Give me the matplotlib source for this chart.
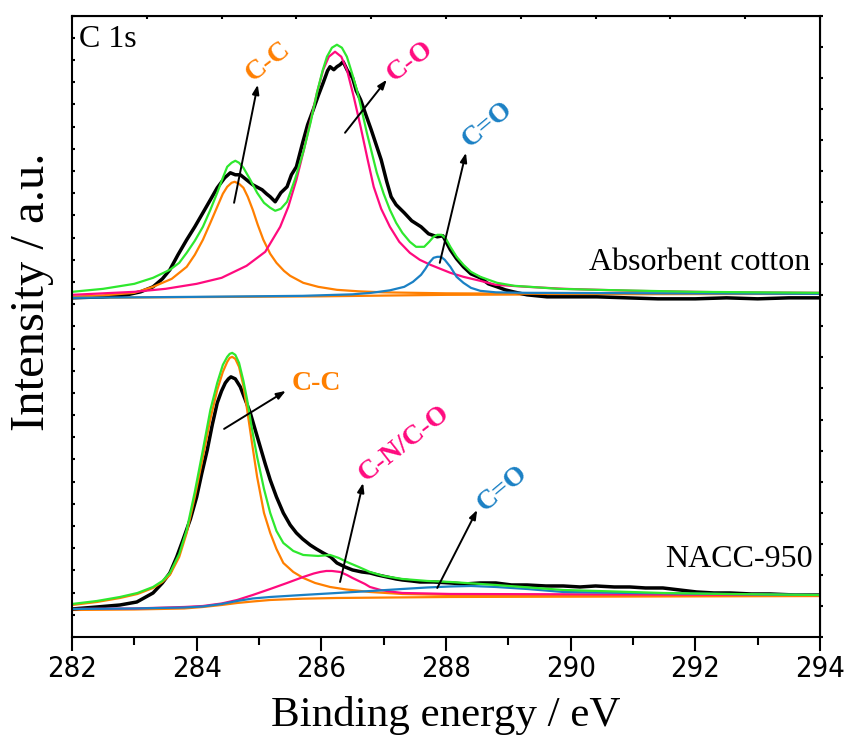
import numpy as np
import matplotlib
matplotlib.use('Agg')
import matplotlib.pyplot as plt
from matplotlib import font_manager

# ---- Absorbent cotton (upper spectrum), y in a.u. ----
cot_raw_x = [282.0, 282.5, 282.88, 283.1, 283.3, 283.45, 283.57, 283.7, 283.84, 283.97, 284.1, 284.22, 284.33,
             284.45, 284.54, 284.62, 284.7, 284.8, 284.9, 285.05, 285.12, 285.18, 285.26, 285.35, 285.45,
             285.52, 285.6, 285.7, 285.78, 285.87, 285.95, 286.03, 286.1, 286.14, 286.2, 286.25, 286.3,
             286.35, 286.42, 286.5, 286.56, 286.63, 286.72, 286.8, 286.88, 286.96, 287.05, 287.12, 287.2,
             287.33, 287.45, 287.6, 287.72, 287.86, 287.95, 288.07, 288.17, 288.28, 288.4, 288.55, 288.68,
             288.82, 288.95, 289.08, 289.3, 289.62, 290.0, 290.42, 290.9, 291.4, 292.0, 292.5, 293.0, 293.5, 294.0]
cot_raw_y = [339, 340, 342, 345, 350, 358, 367, 382, 397, 410, 424, 437, 449,
             459, 464, 462, 462, 457, 452, 447, 443, 440, 435, 444, 450,
             462, 470, 494, 512, 527, 541, 554, 566, 570, 567, 570, 572,
             575, 566, 559, 546, 537, 521, 507, 492, 477, 455, 440, 432,
             424, 416, 410, 403, 400, 401, 387, 378, 370, 363, 359, 353,
             350, 347, 345, 342, 340, 340, 340, 339, 338, 338, 339, 338, 339, 339]

cot_env_x = [282.0, 282.5, 283.0, 283.3, 283.57, 283.72, 283.84, 283.97, 284.1, 284.22, 284.33, 284.42, 284.49,
             284.56, 284.62, 284.68, 284.75, 284.86, 284.97, 285.08, 285.18, 285.26, 285.35, 285.45, 285.58,
             285.72, 285.83, 285.93, 286.02, 286.09, 286.17, 286.25, 286.33, 286.41, 286.49, 286.57, 286.65,
             286.73, 286.81, 286.89, 287.0, 287.1, 287.2, 287.3, 287.42, 287.52, 287.65, 287.73, 287.8,
             287.86, 287.93, 288.0, 288.07, 288.17, 288.28, 288.4, 288.55, 288.82, 289.1, 289.35, 289.8,
             290.42, 291.2, 292.0, 293.0, 294.0]
cot_env_y = [345, 348, 353, 359, 367, 374, 384, 396, 410, 427, 444, 459, 470,
             474, 476, 474, 469, 457, 444, 434, 429, 426, 428, 435, 458,
             487, 515, 544, 566, 580, 589, 592, 589, 580, 564, 547, 526,
             504, 484, 464, 443, 427, 414, 404, 395, 390, 390, 395, 400,
             402, 402, 398, 390, 380, 372, 365, 360, 354, 351, 350, 348,
             347, 346, 345, 344.5, 344]

cot_cc_x = [282.0, 282.5, 283.0, 283.3, 283.6, 283.84, 283.97, 284.1, 284.22, 284.33, 284.42, 284.49, 284.56,
            284.61, 284.68, 284.75, 284.82, 284.9, 284.98, 285.07, 285.18, 285.28, 285.4, 285.5, 285.71,
            285.95, 286.25, 286.6, 287.0, 287.5, 288.0, 289.0, 290.0, 294.0]
cot_cc_y = [340, 341.5, 344, 350, 358, 370, 382, 397, 414, 430, 443, 450, 454,
            455, 453, 449, 440, 427, 412, 397, 383, 374, 366, 361, 354,
            350, 347, 345.5, 344.5, 344, 343.5, 343.2, 343, 343]

cot_co_x = [282.0, 282.5, 283.0, 283.5, 284.0, 284.4, 284.8, 285.1, 285.34, 285.47, 285.6, 285.72, 285.82,
            285.93, 286.03, 286.12, 286.22, 286.32, 286.41, 286.52, 286.63, 286.74, 286.84, 286.96, 287.1,
            287.25, 287.42, 287.58, 287.75, 288.07, 288.28, 288.55, 288.8, 289.3, 289.9, 291.0, 292.5, 294.0]
cot_co_y = [342, 343.5, 345, 348, 353, 359, 371, 385, 410, 430, 457, 487, 514,
            544, 567, 580, 585, 580, 567, 540, 510, 478, 450, 428, 410,
            395, 384, 377, 372, 364, 360, 356, 352, 350, 348, 346, 344.5, 344]

cot_cdo_x = [282.0, 284.0, 285.7, 286.5, 286.8, 287.1, 287.33, 287.47, 287.6, 287.67, 287.73, 287.8, 287.86,
             287.92, 287.98, 288.07, 288.17, 288.28, 288.4, 288.55, 288.8, 289.3, 294.0]
cot_cdo_y = [339, 340, 341, 342.5, 344, 346.5, 350, 355, 362, 368, 374, 379, 380,
             380, 377, 370, 360, 354, 349, 346, 344.5, 344, 343]

cot_bg_x = [282.0, 286.0, 288.0, 290.0, 294.0]
cot_bg_y = [339, 340.5, 342, 342.5, 343]

# ---- NACC-950 (lower spectrum) ----
nacc_raw_x = [282.0, 282.4, 282.77, 283.04, 283.3, 283.45, 283.57, 283.68, 283.78, 283.9, 284.0, 284.08, 284.17,
              284.25, 284.33, 284.4, 284.46, 284.51, 284.55, 284.62, 284.7, 284.78, 284.86, 284.94, 285.02,
              285.1, 285.18, 285.28, 285.39, 285.5, 285.6, 285.7, 285.82, 285.92, 286.03, 286.15, 286.25,
              286.38, 286.5, 286.65, 286.78, 286.9, 287.05, 287.2, 287.3, 287.45, 287.58, 287.8, 288.07,
              288.3, 288.55, 288.8, 289.05, 289.3, 289.6, 289.88, 290.15, 290.4, 290.7, 290.95, 291.2,
              291.48, 291.75, 292.02, 292.3, 292.56, 292.9, 293.2, 293.6, 294.0]
nacc_raw_y = [28, 30, 32, 35, 44, 54, 64, 80, 97, 118, 140, 163, 187,
              212, 234, 246, 254, 258, 260, 258, 250, 237, 224, 207, 190,
              173, 157, 140, 124, 112, 104, 98, 92, 88, 84, 80, 74,
              70, 67, 65, 64, 62, 60, 58, 57, 56, 55, 55, 54,
              53, 54, 54, 52, 52, 51, 51, 50, 51, 50, 50, 49,
              49, 47, 45, 44, 44, 43, 43, 42, 42]

nacc_env_x = [282.0, 282.4, 282.77, 283.05, 283.3, 283.45, 283.57, 283.72, 283.84, 283.97, 284.1, 284.22, 284.33,
              284.42, 284.49, 284.53, 284.57, 284.62, 284.68, 284.75, 284.81, 284.89, 284.97, 285.08, 285.18,
              285.28, 285.39, 285.55, 285.71, 285.95, 286.14, 286.28, 286.41, 286.6, 286.78, 287.0, 287.3,
              287.7, 288.07, 288.8, 289.88, 290.7, 291.48, 292.5, 294.0]
nacc_env_y = [33, 36, 40, 44, 50, 56, 64, 83, 107, 145, 187, 227, 254,
              272, 280, 283, 284, 282, 274, 256, 237, 207, 180, 148, 124,
              106, 94, 86, 82, 81, 82, 79, 75, 70, 65, 61, 58,
              56, 55, 52, 47, 45.5, 44, 43, 42]

nacc_cc_x = [282.0, 282.4, 282.77, 283.05, 283.3, 283.45, 283.57, 283.72, 283.84, 283.97, 284.1, 284.22, 284.33,
             284.42, 284.49, 284.53, 284.57, 284.62, 284.68, 284.75, 284.81, 284.89, 284.97, 285.08, 285.18,
             285.28, 285.39, 285.55, 285.71, 285.9, 286.14, 286.4, 286.78, 287.3, 288.07, 290.0, 294.0]
nacc_cc_y = [32, 35, 39, 43, 49, 55, 62, 80, 104, 140, 180, 218, 247,
             265, 275, 279, 280, 278, 270, 251, 227, 193, 160, 124, 104,
             88, 74, 65, 59, 54, 50, 47.5, 45, 43, 42, 41, 41]

nacc_cn_x = [282.0, 283.0, 283.8, 284.1, 284.4, 284.65, 284.9, 285.18, 285.45, 285.71, 285.88, 285.98, 286.08,
             286.17, 286.3, 286.41, 286.5, 286.6, 286.7, 286.78, 286.95, 287.1, 287.3, 287.7, 288.07, 294.0]
nacc_cn_y = [28, 28.5, 30, 31, 33.5, 37, 42, 48, 54, 60, 63.5, 65, 66,
             66, 65, 62, 59, 56, 53, 50, 47, 45.5, 44, 43.5, 43, 42]

nacc_cdo_x = [282.0, 283.0, 283.8, 284.1, 284.4, 284.65, 284.9, 285.18, 285.7, 286.25, 286.8, 287.3, 287.7,
              288.07, 288.4, 288.8, 289.3, 289.88, 290.95, 294.0]
nacc_cdo_y = [28, 28.5, 29.5, 30.5, 33, 36, 38.5, 40, 42, 44, 46, 48, 49.5,
              50.5, 51, 50, 48, 45, 44, 42]

nacc_bg_x = [282.0, 283.0, 283.8, 284.1, 284.4, 284.65, 284.9, 285.18, 285.7, 286.25, 288.07, 294.0]
nacc_bg_y = [27, 27.5, 28.5, 30, 32, 34, 35.5, 37, 38.3, 39, 40, 41]

GREEN = '#2ee82e'
ORANGE = '#ff7f00'
PINK = '#ff0a7e'
BLUE = '#1a80c4'

plt.rcParams['font.family'] = ['Liberation Serif', 'DejaVu Serif']

# a condensed sans for the tick numbers, if one is installed
fnames = {f.name for f in font_manager.fontManager.ttflist}
tick_font = dict(family='Liberation Sans', size=21)
if 'Liberation Sans Narrow' in fnames:
    tick_font = dict(family='Liberation Sans Narrow', size=23)
elif any(f.name == 'DejaVu Sans' and f.stretch == 'condensed' for f in font_manager.fontManager.ttflist):
    tick_font = dict(family='DejaVu Sans', stretch='condensed', size=21)

fig = plt.figure(figsize=(8.45, 7.47), dpi=100)
ax = fig.add_axes([72 / 845, 110 / 747, 748 / 845, 621.3 / 747])

lw_fit = 1.6
for bx, by, cx, cy, ox, oy, dx, dy, ex, ey, rx, ry in [
        (cot_bg_x, cot_bg_y, cot_cc_x, cot_cc_y, cot_co_x, cot_co_y, cot_cdo_x, cot_cdo_y,
         cot_env_x, cot_env_y, cot_raw_x, cot_raw_y),
        (nacc_bg_x, nacc_bg_y, nacc_cc_x, nacc_cc_y, nacc_cn_x, nacc_cn_y, nacc_cdo_x, nacc_cdo_y,
         nacc_env_x, nacc_env_y, nacc_raw_x, nacc_raw_y)]:
    ax.plot(bx, by, color=ORANGE, lw=lw_fit)
    ax.plot(rx, ry, color='black', lw=2.5)
    ax.plot(cx, cy, color=ORANGE, lw=lw_fit)
    ax.plot(ox, oy, color=PINK, lw=lw_fit)
    ax.plot(dx, dy, color=BLUE, lw=lw_fit)
    ax.plot(ex, ey, color=GREEN, lw=lw_fit)

# arrows and peak labels
arrows = [((284.60, 434), (284.98, 552)),
          ((286.38, 504), (287.05, 557)),
          ((287.90, 374), (288.32, 484)),
          ((284.44, 208), (285.43, 246)),
          ((286.30, 55), (286.67, 154)),
          ((287.86, 49), (288.50, 127))]
for start, end in arrows:
    ax.annotate('', xy=end, xytext=start,
                arrowprops=dict(arrowstyle='-|>,head_length=0.55,head_width=0.2',
                                color='black', lw=1.4, shrinkA=0, shrinkB=0))

lab_kw = dict(fontsize=20, fontweight='bold', ha='center', va='center', rotation_mode='anchor')
ax.text(285.14, 575, 'C-C', color=ORANGE, rotation=38, **lab_kw)
ax.text(287.42, 575, 'C-O', color=PINK, rotation=37, **lab_kw)
ax.text(288.66, 512, 'C=O', color=BLUE, rotation=40, **lab_kw)
ax.text(285.92, 253, 'C-C', color=ORANGE, rotation=0, **lab_kw)
ax.text(287.33, 193, 'C-N/C-O', color=PINK, rotation=38, **lab_kw)
ax.text(288.91, 148, 'C=O', color=BLUE, rotation=40, **lab_kw)

ax.text(0.009, 0.985, 'C 1s', transform=ax.transAxes, fontsize=23, ha='left', va='top')
ax.text(293.84, 374, 'Absorbent cotton', fontsize=23, ha='right', va='center')
ax.text(293.89, 77, 'NACC-950', fontsize=23, ha='right', va='center')

ax.set_xlim(282, 294)
ax.set_ylim(0, 621)
ax.set_xticks(np.arange(282, 295, 2))
ax.set_xticks(np.arange(283, 294, 2), minor=True)
ax.set_yticks(np.arange(0, 29) * 621 / 28)
ax.set_yticklabels([])
ax.tick_params(axis='x', which='major', direction='out', length=10, width=1.5, pad=3)
ax.tick_params(axis='x', which='minor', direction='out', length=6, width=1.5)
ax.tick_params(axis='y', which='major', direction='in', length=2.5, width=1.5)
for lab in ax.get_xticklabels():
    lab.set_fontproperties(font_manager.FontProperties(**tick_font))
for s in ax.spines.values():
    s.set_linewidth(1.5)

top = ax.secondary_xaxis('top')
top.set_xticks(282 + np.arange(11) * 1.2)
top.set_xticklabels([])
top.tick_params(direction='in', length=2.5, width=1.5)
right = ax.secondary_yaxis('right')
right.set_yticks(np.arange(21) * 621 / 20)
right.set_yticklabels([])
right.tick_params(direction='out', length=2.5, width=1.5)

ax.set_xlabel('Binding energy / eV', fontsize=31)
ax.xaxis.set_label_coords(0.5, -0.095)
ax.set_ylabel('Intensity / a.u.', fontsize=35)
ax.yaxis.set_label_coords(-0.024, 0.555)

fig.savefig('out.png', dpi=100)
